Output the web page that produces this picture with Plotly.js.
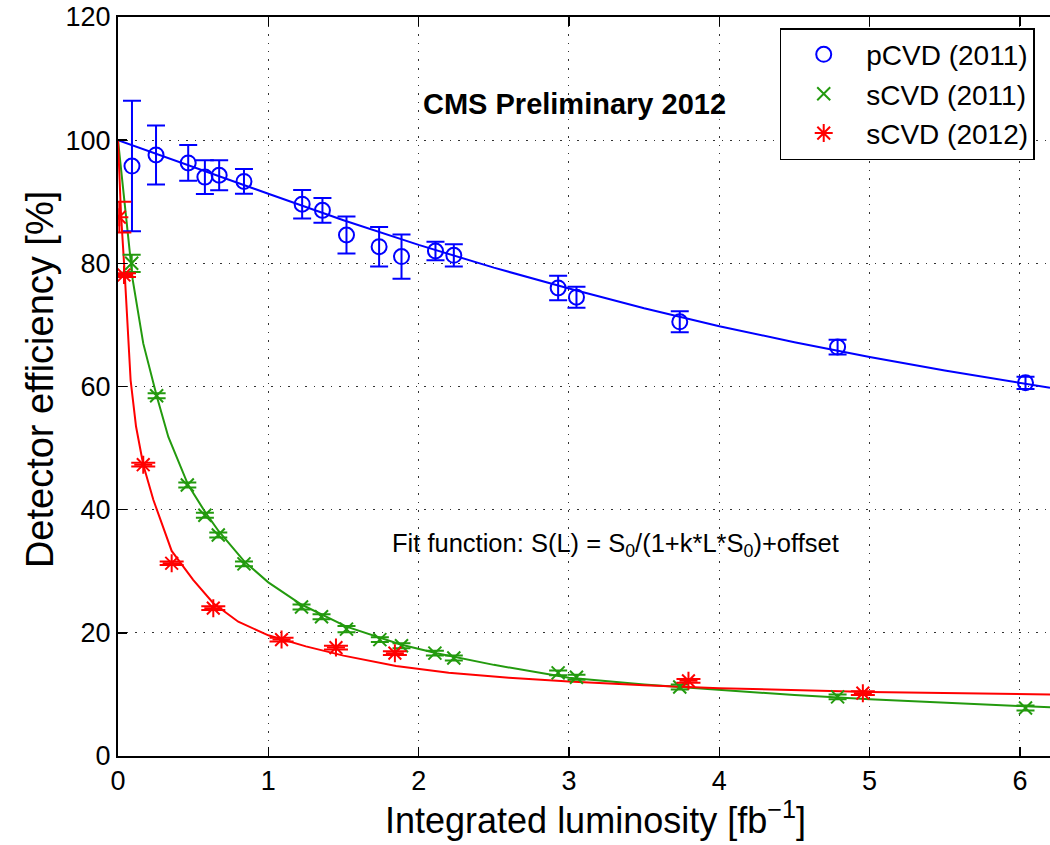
<!DOCTYPE html>
<html>
<head>
<meta charset="utf-8">
<script src="https://cdn.plot.ly/plotly-3.0.1.min.js"></script>
<style>
html,body{margin:0;padding:0;background:#fff;overflow:hidden;}
#chart{width:1050px;height:845px;}
</style>
</head>
<body>
<div id="chart"></div>
<script>
// ---- data ----
const lumi = [0.093,0.253,0.467,0.578,0.673,0.838,1.225,1.36,1.52,1.737,1.886,2.112,2.234,2.928,3.05,3.737,4.787,6.037];
const pcvd = [95.8,97.6,96.3,94.0,94.3,93.3,89.6,88.6,84.6,82.7,81.1,82.0,81.3,76.0,74.5,70.5,66.4,60.6];
const pcvdErr = [10.6,4.8,2.9,2.75,2.45,2.0,2.3,2.0,3.0,3.2,3.6,1.5,1.8,2.0,1.7,1.7,1.2,1.0];

const lumiS11 = [0.091,0.257,0.461,0.578,0.667,0.838,1.221,1.354,1.52,1.742,1.886,2.108,2.234,2.928,3.05,3.737,4.787,6.037];
const scvd11 = [80.0,58.5,44.0,39.1,35.9,31.2,24.2,22.6,20.6,18.9,17.9,16.7,15.9,13.5,12.8,11.2,9.6,7.8];
const scvd11Err = [1.4,0.4,0.4,0.4,0.4,0.4,0.4,0.4,0.5,0.4,0.4,0.4,0.4,0.4,0.4,0.4,0.4,0.4];

const lumiS12 = [0.009,0.04,0.168,0.357,0.634,1.088,1.45,1.842,3.795,4.955];
const scvd12 = [87.5,78.1,47.3,31.3,24.0,18.9,17.6,16.7,12.2,10.2];
const scvd12Err = [2.5,0.3,0.3,0.3,0.3,0.3,0.3,0.3,0.3,0.3];

// fit curves
const fitBlueL = [0,0.5,1,1.5,2,2.5,3,3.5,4,4.5,5,5.5,6,6.2];
const fitBlueS = [100,95.6,91.3,87.0,83.0,79.3,75.9,72.7,69.8,67.2,64.8,62.6,60.6,59.8];

const fitGreenL = [0,0.05,0.098,0.168,0.257,0.335,0.467,0.58,0.67,0.84,1.0,1.22,1.52,1.88,2.12,2.5,3,3.5,4,4.5,5,5.5,6,6.2];
const fitGreenS = [100,88,77.3,67.0,58.5,51.8,44.0,39.6,36.5,31.6,28.2,24.6,21.0,18.1,16.7,14.8,12.7,11.6,10.7,9.9,9.2,8.6,8.1,7.9];

const fitRedL = [0,0.02,0.047,0.084,0.12,0.168,0.235,0.357,0.5,0.634,0.8,1.0,1.25,1.5,1.85,2.2,2.6,3,3.5,4,5,6,6.2];
const fitRedS = [100,88,77.3,61.0,53.5,47.3,41.6,33.3,28.6,24.8,21.8,19.6,17.8,16.3,14.6,13.5,12.7,12.1,11.5,11.0,10.4,10.1,10.0];

const xTicks = [0,1,2,3,4,5,6];
const yTicks = [0,20,40,60,80,100,120];

const seriesNames = ['pCVD (2011)','sCVD (2011)','sCVD (2012)'];
const xTitle = 'Integrated luminosity [fb<sup>−1</sup>]';
const yTitle = 'Detector efficiency [%]';
const cmsLabel = '<b>CMS Preliminary 2012</b>';
const fitLabel = 'Fit function: S(L) = S<sub>0</sub>/(1+k*L*S<sub>0</sub>)+offset';

// ---- styling ----
const BLUE = '#0000ff', GREEN = '#239a0e', RED = '#ff0000';
const FONT = 'Liberation Sans, Arial, Helvetica, sans-serif';

const traces = [
  {x: fitBlueL, y: fitBlueS, mode:'lines', line:{color:BLUE, width:2}, showlegend:false, hoverinfo:'skip'},
  {x: fitGreenL, y: fitGreenS, mode:'lines', line:{color:GREEN, width:2}, showlegend:false, hoverinfo:'skip'},
  {x: fitRedL, y: fitRedS, mode:'lines', line:{color:RED, width:2}, showlegend:false, hoverinfo:'skip'},
  {x: lumi, y: pcvd, name: seriesNames[0], mode:'markers',
   marker:{symbol:'circle-open', size:15, color:BLUE, line:{width:2, color:BLUE}},
   error_y:{type:'data', array:pcvdErr, visible:true, color:BLUE, thickness:2, width:9}},
  {x: lumiS11, y: scvd11, name: seriesNames[1], mode:'markers',
   marker:{symbol:'x-thin-open', size:13, color:GREEN, line:{width:2, color:GREEN}},
   error_y:{type:'data', array:scvd11Err, visible:true, color:GREEN, thickness:2, width:9}},
  {x: lumiS12, y: scvd12, name: seriesNames[2], mode:'markers',
   marker:{symbol:'asterisk-open', size:15, color:RED, line:{width:2, color:RED}},
   error_y:{type:'data', array:scvd12Err, visible:true, color:RED, thickness:2, width:12}}
];

const axisCommon = {
  ticks:'inside', ticklen:9, tickwidth:1.5, tickcolor:'#000',
  showline:true, linecolor:'#000', linewidth:2,
  showgrid:true, gridcolor:'#333', gridwidth:1, griddash:'1.5px,7px',
  zeroline:false, automargin:false,
  tickfont:{family:FONT, size:27, color:'#000'}
};

const layout = {
  width:1050, height:845,
  margin:{l:118, r:0, t:17, b:89},
  paper_bgcolor:'#fff', plot_bgcolor:'#fff',
  font:{family:FONT, color:'#000'},
  xaxis: Object.assign({}, axisCommon, {
    range:[0,6.2], tickvals:xTicks, ticktext:xTicks.map(String), mirror:'ticks'
  }),
  yaxis: Object.assign({}, axisCommon, {
    range:[0,120], tickvals:yTicks, ticktext:yTicks.map(String), mirror:false
  }),
  legend:{x:0.71, y:0.985, xanchor:'left', yanchor:'top', itemwidth:75,
          bgcolor:'#fff', bordercolor:'#000', borderwidth:1.5,
          font:{family:FONT, size:28, color:'#000'}},
  annotations:[
    {x:0.512, y:-0.0839, xref:'paper', yref:'paper', xanchor:'center', yanchor:'middle',
     text:xTitle, showarrow:false, font:{family:FONT, size:36, color:'#000'}},
    {x:-0.0837, y:0.51, xref:'paper', yref:'paper', xanchor:'center', yanchor:'middle',
     textangle:-90, text:yTitle, showarrow:false, font:{family:FONT, size:38, color:'#000'}},
    {x:3.04, y:105.8, xref:'x', yref:'y', text:cmsLabel, showarrow:false,
     font:{family:FONT, size:29, color:'#000'}},
    {x:3.31, y:34.3, xref:'x', yref:'y', text:fitLabel, showarrow:false,
     font:{family:FONT, size:25.5, color:'#000'}}
  ],
  showlegend:true
};

Plotly.newPlot('chart', traces, layout, {displayModeBar:false, staticPlot:true});
</script>
</body>
</html>
